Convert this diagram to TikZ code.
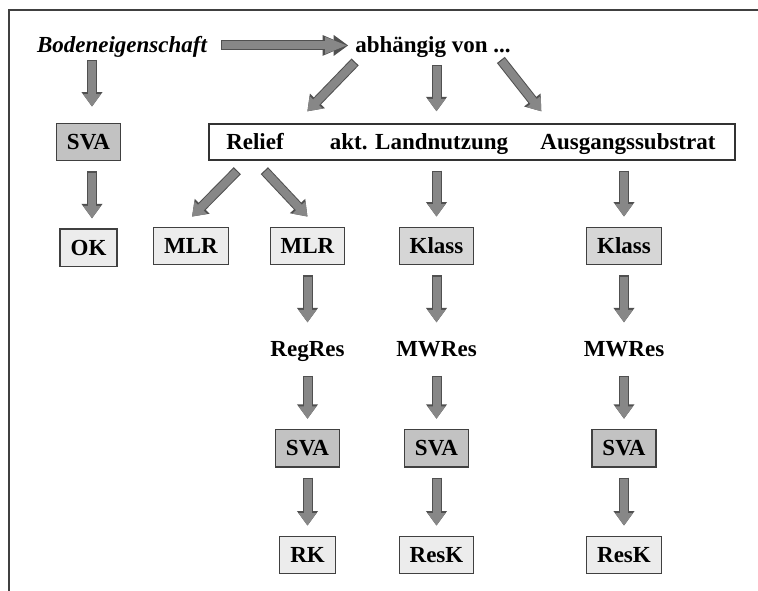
\documentclass[tikz,border=0pt]{standalone}
\usepackage{fontspec}
\setmainfont{Liberation Serif}
\usepackage{tikz}
\usetikzlibrary{arrows.meta,positioning}
\definecolor{arrfill}{HTML}{878787}
\definecolor{arredge}{HTML}{505050}
\definecolor{dkfill}{HTML}{C2C2C2}
\definecolor{mdfill}{HTML}{D6D6D6}
\definecolor{ltfill}{HTML}{ECECEC}
\tikzset{
  lbl/.style={font=\fontsize{23}{26}\selectfont\bfseries, inner sep=0pt, text height=15.5pt, text depth=0pt},
  mbox/.style={lbl, draw=black!75, line width=1.3pt, inner xsep=10.5pt, minimum height=37.5pt},
  dkbox/.style={mbox, fill=dkfill},
  mdbox/.style={mbox, fill=mdfill},
  ltbox/.style={mbox, fill=ltfill},
  midtxt/.style={lbl, minimum height=33pt},
  fat/.style={line width=8pt, draw=arrfill, shorten <=1.2pt, -{Triangle[length=12.5pt,width=17pt]},
    preaction={draw=arredge, line width=10pt, shorten <=0pt, -{Triangle[length=14.5pt,width=20pt]}}},
  fatlong/.style={fat, -{Triangle[length=23pt,width=15pt]},
    preaction={draw=arredge, line width=10pt, shorten <=0pt, -{Triangle[length=25.5pt,width=18.5pt]}}}
}
\begin{document}
\begin{tikzpicture}[x=1pt, y=-1pt]
\useasboundingbox (0,0) rectangle (758,591);
\draw[black!75, line width=1.5pt] (9,591) |- (758,10);

% top line
\node[lbl, font=\fontsize{23}{26}\selectfont\bfseries\itshape] (bod) at (122,45) {Bodeneigenschaft};
\node[lbl] (abh) at (433,45) {abhängig von ...};

% left column
\node[dkbox] (sva0) at (88.5,142) {SVA};
\node[ltbox, below=67pt of sva0] (ok) {OK};

% factor box
\node[draw=black!80, line width=1.3pt, minimum width=526pt, minimum height=36pt, inner sep=0pt] (faktoren) at (472,142) {};
\node[lbl] (relief) at (255,142) {Relief};
\node[lbl] (landn) at (419,142) {akt. Landnutzung};
\node[lbl] (ausg) at (628,142) {Ausgangssubstrat};

% second row
\node[ltbox] (mlr1) at (191,246) {MLR};
\node[ltbox] (mlr2) at (307.5,246) {MLR};
\node[mdbox] (klass1) at (436.5,246) {Klass};
\node[mdbox] (klass2) at (624,246) {Klass};

% residual chains
\node[midtxt, below=67pt of mlr2] (regres) {RegRes};
\node[midtxt, below=67pt of klass1] (mwres1) {MWRes};
\node[midtxt, below=67pt of klass2] (mwres2) {MWRes};
\node[dkbox, below=63pt of regres] (sva1) {SVA};
\node[dkbox, below=63pt of mwres1] (sva2) {SVA};
\node[dkbox, below=63pt of mwres2] (sva3) {SVA};
\node[ltbox, below=68pt of sva1] (rk) {RK};
\node[ltbox, below=68pt of sva2] (resk1) {ResK};
\node[ltbox, below=68pt of sva3] (resk2) {ResK};

% arrows
\draw[fatlong] ([xshift=14pt,yshift=7.5pt]bod.south east) -- ([xshift=-7pt,yshift=7.5pt]abh.south west);
\draw[fat] ([xshift=3.5pt,yshift=-7pt]bod.south -| sva0.north) -- ([xshift=3.5pt,yshift=16pt]sva0.north);
\draw[fat] ([xshift=3.5pt,yshift=-10pt]sva0.south) -- ([xshift=3.5pt,yshift=10pt]ok.north);
\draw[fat] ([yshift=-9pt]abh.south west) -- ([xshift=99pt,yshift=12pt]faktoren.north west);
\draw[fat] ([yshift=-12pt]abh.south -| klass1.north) -- ([yshift=12pt]faktoren.north -| klass1.north);
\draw[fat] ([xshift=-10pt,yshift=-7pt]abh.south east) -- ([xshift=333pt,yshift=12pt]faktoren.north west);
\draw[fat] ([xshift=29pt,yshift=-10pt]faktoren.south west) -- ([xshift=1pt,yshift=10pt]mlr1.north);
\draw[fat] ([xshift=56pt,yshift=-10pt]faktoren.south west) -- ([yshift=10pt]mlr2.north);
\draw[fat] ([yshift=-10pt]faktoren.south -| klass1.south) -- ([yshift=10pt]klass1.north);
\draw[fat] ([yshift=-10pt]faktoren.south -| klass2.south) -- ([yshift=10pt]klass2.north);
\foreach \a/\b in {mlr2/regres, regres/sva1, sva1/rk,
                   klass1/mwres1, mwres1/sva2, sva2/resk1,
                   klass2/mwres2, mwres2/sva3, sva3/resk2}
  \draw[fat] ([yshift=-10pt]\a.south) -- ([yshift=10pt]\b.north);
\end{tikzpicture}
\end{document}
